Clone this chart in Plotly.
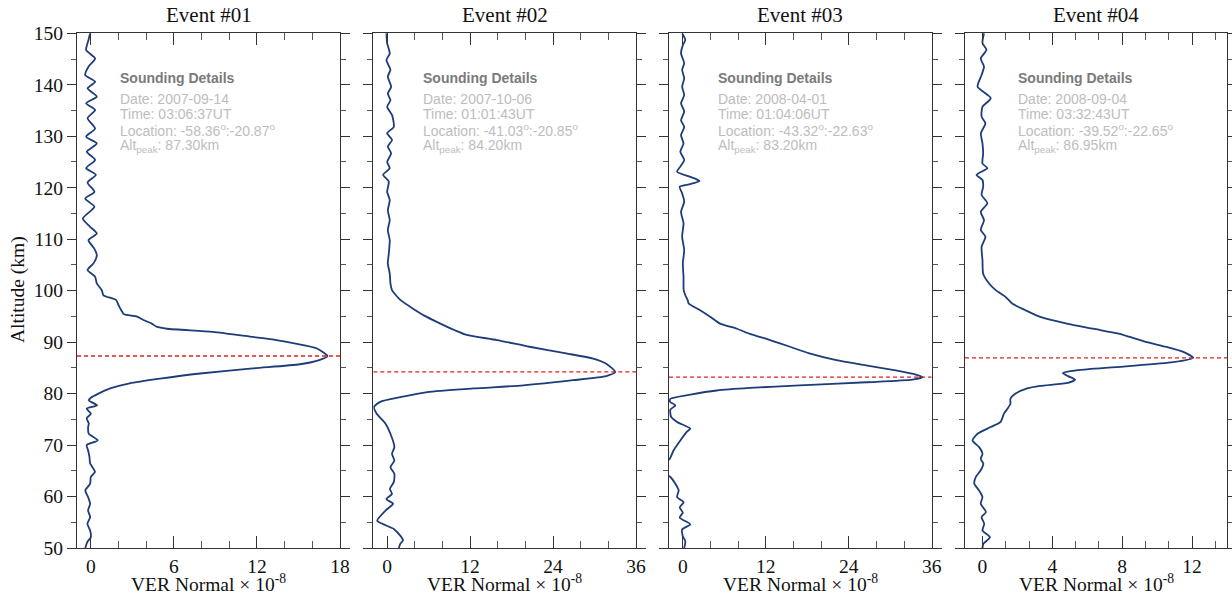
import plotly.graph_objects as go

# ---------------- data ----------------
titles = ["Event #01", "Event #02", "Event #03", "Event #04"]
dates = ["2007-09-14", "2007-10-06", "2008-04-01", "2008-09-04"]
times = ["03:06:37UT", "01:01:43UT", "01:04:06UT", "03:32:43UT"]
lat = ["-58.36", "-41.03", "-43.32", "-39.52"]
lon = ["-20.87", "-20.85", "-22.63", "-22.65"]
alt_peak = [87.30, 84.20, 83.20, 86.95]

alt_01 = [150.0, 148.7, 146.75, 145.1, 143.5, 141.9, 140.6, 139.3, 137.7, 136.4, 135.1, 133.5,
          131.5, 129.9, 128.6, 127.0, 125.4, 123.8, 122.5, 121.0, 119.2, 117.9, 116.3, 114.0,
          112.4, 111.1, 109.8, 108.2, 106.9, 105.3, 104.0, 102.7, 101.4, 100.1, 99.1, 98.2,
          97.2, 96.2, 95.4, 95.0, 94.3, 93.6, 93.0, 92.6, 92.0, 91.0, 90.4, 89.7, 88.8, 87.3,
          86.5, 85.7, 84.9, 83.9, 82.9, 82.0, 81.0, 80.0, 79.2, 78.7, 77.7, 77.1, 76.1, 75.2,
          74.2, 73.4, 72.2, 70.9, 70.0, 69.0, 67.7, 66.4, 64.8, 63.8, 62.5, 61.2, 59.9, 58.6,
          57.3, 56.0, 54.7, 53.4, 52.1, 51.2, 50.0]
ver_01 = [-0.05, -0.17, -0.34, 0.31, -0.17, -0.41, 0.31, -0.24, 0.43, -0.34, 0.31, -0.24,
          0.31, -0.34, 0.43, -0.29, 0.31, -0.34, 0.36, -0.24, 0.26, -0.41, 0.26, -0.58,
          -0.05, 0.43, -0.17, 0.24, 0.43, 0.19, -0.24, 0.31, 0.43, 0.79, 0.91, 1.82,
          2.0, 2.2, 2.4, 3.3, 3.8, 4.4, 4.75, 5.5, 8.8, 11.7, 13.4, 14.8, 16.3, 17.1,
          16.5, 15.1, 11.7, 7.9, 5.0, 2.8, 1.4, 0.55, 0.0, -0.15, 0.45, -0.3, 0.0, -0.3,
          -0.15, -0.2, -0.15, 0.5, -0.3, -0.2, -0.1, -0.05, 0.3, 0.0, -0.05, -0.4, -0.2, -0.05,
          -0.2, -0.05, -0.25, -0.05, 0.0, -0.25, -0.4]

alt_02 = [150.0, 148.1, 146.1, 144.8, 142.9, 141.6, 139.6, 138.3, 137.0, 135.7, 134.1, 131.8,
          130.6, 129.3, 128.0, 126.7, 125.0, 123.8, 122.5, 121.2, 119.2, 117.6, 115.6, 113.7,
          111.8, 109.8, 107.2, 105.3, 103.3, 101.4, 100.1, 98.2, 96.2, 95.2, 93.6, 92.3,
          91.4, 90.4, 89.1, 87.8, 86.8, 85.8, 84.2, 83.4, 82.6, 81.6, 81.0, 80.3, 79.3, 78.4,
          77.4, 76.1, 74.2, 72.2, 69.6, 68.3, 67.0, 65.7, 64.4, 62.8, 61.5, 60.5, 59.5, 58.6,
          57.3, 55.3, 54.7, 53.7, 52.4, 51.5, 50.8, 50.0]
ver_02 = [-0.1, 0.0, 0.38, -0.1, 0.48, 0.1, 0.58, 0.1, 0.48, 0.0, 0.72, 0.96,
          0.0, 0.72, 0.1, 0.58, 0.0, 0.38, -0.58, 0.24, 0.0, 0.38, 0.1, 0.38,
          0.1, 0.38, 0.24, 0.1, 0.38, 0.48, 0.7, 1.9, 4.1, 5.3, 7.7, 9.8,
          11.5, 15.9, 20.6, 25.9, 29.8, 31.7, 33.0, 31.7, 26.9, 19.7, 12.5, 5.8, 1.9, -1.0,
          -1.9, -1.5, -0.25, 0.48, 1.05, 0.7, 1.05, 0.48, 1.05, 0.96, 0.4, 0.7, -0.1, 0.86,
          -0.2, -1.44, -0.7, 0.96, 1.9, 2.3, 1.9, 1.7]

alt_03 = [150.0, 148.7, 147.7, 146.1, 144.2, 142.9, 141.3, 139.6, 138.0, 136.4, 134.8, 133.1,
          131.8, 130.2, 128.6, 127.0, 125.4, 124.1, 123.1, 122.1, 121.3, 120.7, 120.2, 118.9,
          117.3, 115.3, 113.1, 110.5, 107.9, 105.3, 102.7, 100.1, 99.1, 98.2, 97.5, 96.2,
          94.9, 93.6, 92.6, 91.6, 90.4, 89.1, 87.8, 86.5, 85.5, 84.5, 83.7, 83.2, 82.7, 82.2,
          81.6, 81.1, 80.6, 79.8, 79.0, 78.4, 77.7, 76.9, 75.5, 74.5, 73.2, 72.6, 70.9, 69.0,
          67.3, 66.5, 65.5, 64.5, 63.8, 62.5, 61.2, 59.9, 58.9, 57.9, 56.9, 55.9, 54.6, 53.6,
          52.3, 51.3, 50.0]
ver_03 = [-0.1, 0.36, 0.0, -0.26, 0.2, -0.1, 0.2, -0.1, 0.2, -0.26, 0.2, -0.26,
          0.2, -0.26, 0.1, -0.36, 0.2, -0.36, -0.84, 1.08, 2.42, 1.08, -0.46, -0.1,
          0.2, -0.26, 0.1, -0.1, 0.2, 0.0, 0.1, 0.12, 0.36, 0.69, 0.84, 2.5,
          4.0, 5.4, 7.8, 9.7, 12.6, 15.5, 18.3, 22.2, 26.5, 30.8, 33.7, 34.7, 33.2, 26.5,
          16.9, 9.7, 4.9, 1.1, -1.8, -1.85, -1.08, -1.8, -1.7, -0.84, 1.08, 0.6, -0.36, -1.32,
          -1.9, -2.6, -3.0, -2.6, -1.8, -1.08, -0.6, -0.84, 0.12, -0.46, 0.0, -0.46, 1.08, -0.1,
          0.0, 0.36, 0.2]

alt_04 = [150.0, 148.1, 146.8, 145.1, 143.5, 141.9, 139.6, 137.4, 135.7, 133.8, 132.5, 130.6,
          128.6, 126.7, 124.7, 123.8, 122.5, 121.5, 120.2, 118.6, 117.0, 115.3, 113.7, 111.8,
          110.5, 108.5, 105.9, 103.3, 101.4, 100.1, 98.8, 97.5, 96.2, 94.9, 93.6, 92.6,
          91.6, 91.0, 90.0, 89.1, 88.1, 86.95, 86.1, 85.3, 84.6, 84.0, 83.4, 82.7, 82.1, 81.5,
          81.0, 80.0, 79.0, 78.0, 77.0, 76.1, 74.5, 73.5, 72.2, 70.9, 69.6, 68.3, 67.3, 66.4,
          65.1, 63.8, 62.5, 61.2, 59.9, 58.6, 57.0, 56.0, 54.7, 53.4, 52.1, 50.8, 50.0]
ver_04 = [0.09, 0.0, 0.23, -0.1, 0.09, -0.05, -0.28, 0.47, 0.0, -0.05, 0.17, -0.09,
          0.0, 0.04, 0.0, 0.28, -0.34, 0.0, 0.04, -0.05, 0.28, -0.1, 0.09, -0.1,
          0.17, -0.05, 0.0, 0.04, 0.38, 0.76, 1.32, 1.70, 2.46, 3.31, 4.83, 6.34,
          7.86, 8.43, 9.4, 10.5, 11.5, 12.06, 10.9, 8.2, 5.6, 4.6, 4.9, 5.3, 4.9, 3.3,
          2.56, 1.9, 1.6, 1.6, 1.42, 1.23, 1.04, 0.47, -0.28, -0.57, -0.19, 0.0, -0.1, 0.05,
          -0.1, -0.38, -0.47, -0.2, 0.0, -0.1, 0.2, -0.05, 0.1, 0.0, 0.43, 0.05, 0.0]

altitudes = [alt_01, alt_02, alt_03, alt_04]
vers = [ver_01, ver_02, ver_03, ver_04]

x_ranges = [[-1, 18], [-2, 36], [-2, 36], [-1, 14]]
x_dticks = [6, 12, 12, 4]

# ---------------- layout ----------------
W, H = 1232, 597
SERIF = "Liberation Serif"
SANS = "Liberation Sans"
dom_px = [(77, 340), (373.3, 636), (669, 931.7), (965, 1227)]
y_top_px, y_bot_px = 33.3, 548


def px_x(p):
    return p / W


def px_y(p):
    return 1 - p / H


fig = go.Figure()
layout = dict(
    width=W, height=H,
    margin=dict(l=0, r=0, t=0, b=0, autoexpand=False),
    paper_bgcolor="white", plot_bgcolor="white",
    showlegend=False,
)
annotations = []

for i in range(4):
    n = "" if i == 0 else str(i + 1)
    xa, ya = "x" + n, "y" + n
    x0, x1 = dom_px[i]
    layout["xaxis" + n] = dict(
        domain=[px_x(x0), px_x(x1)], range=x_ranges[i], anchor=ya,
        tickmode="linear", tick0=0, dtick=x_dticks[i],
        ticks="inside", ticklen=12, tickwidth=1, tickcolor="#333",
        minor=dict(dtick=x_dticks[i] / 3, ticks="inside", ticklen=7, tickwidth=1, tickcolor="#555"),
        mirror="ticks", showline=True, linecolor="#333", linewidth=1.3,
        showgrid=False, zeroline=False,
        tickfont=dict(family=SERIF, size=19.5, color="#111"),
    )
    layout["yaxis" + n] = dict(
        domain=[px_y(y_bot_px), px_y(y_top_px)], range=[50, 150], anchor=xa,
        tickmode="linear", tick0=50, dtick=10,
        ticks="outside", ticklen=9, tickwidth=1, tickcolor="#333",
        minor=dict(dtick=5, ticks="outside", ticklen=5, tickwidth=1, tickcolor="#555"),
        mirror="ticks", showline=True, linecolor="#333", linewidth=1.3,
        showgrid=False, zeroline=False, showticklabels=(i == 0),
        tickfont=dict(family=SERIF, size=19.5, color="#111"),
    )

    fig.add_trace(go.Scatter(
        x=vers[i], y=altitudes[i], mode="lines", xaxis=xa, yaxis=ya,
        line=dict(color="#1d3c7a", width=1.8, shape="spline", smoothing=0.6),
        hoverinfo="skip",
    ))
    fig.add_trace(go.Scatter(
        x=x_ranges[i], y=[alt_peak[i], alt_peak[i]], mode="lines", xaxis=xa, yaxis=ya,
        line=dict(color="#e0201c", width=1.3, dash="4px,3px"),
        hoverinfo="skip",
    ))

    cx = px_x((x0 + x1) / 2)
    annotations.append(dict(text=titles[i], x=cx, y=px_y(15), xref="paper", yref="paper",
                            xanchor="center", yanchor="middle", showarrow=False,
                            font=dict(family=SERIF, size=21, color="#111")))
    annotations.append(dict(text="VER Normal \u00d7 10<sup>-8</sup>", x=cx, y=px_y(583),
                            xref="paper", yref="paper", xanchor="center", yanchor="middle",
                            showarrow=False, font=dict(family=SERIF, size=19.5, color="#111")))

    tx = px_x(x0 + [41, 47.4, 47.3, 51.3][i])
    annotations.append(dict(text="<b>Sounding Details</b>", x=tx, y=px_y(78), xref="paper",
                            yref="paper", xanchor="left", yanchor="middle", showarrow=False,
                            font=dict(family=SANS, size=14, color="#7a7a7a")))
    lines = [
        (99, "Date: " + dates[i]),
        (114.5, "Time: " + times[i]),
        (130, "Location: " + lat[i] + "<sup>o</sup>:" + lon[i] + "<sup>o</sup>"),
        (146, "Alt<sub>peak</sub>: %.2fkm" % alt_peak[i]),
    ]
    for yy, t in lines:
        annotations.append(dict(text=t, x=tx, y=px_y(yy), xref="paper", yref="paper",
                                xanchor="left", yanchor="middle", showarrow=False,
                                font=dict(family=SANS, size=14, color="#bdbdbd")))

annotations.append(dict(text="Altitude (km)", x=px_x(18), y=px_y(290), xref="paper",
                        yref="paper", xanchor="center", yanchor="middle", textangle=-90,
                        showarrow=False, font=dict(family=SERIF, size=19.5, color="#111")))
layout["annotations"] = annotations
fig.update_layout(**layout)
fig.write_html(
    "out.html",
    config={"displayModeBar": False},
    post_script="document.body.style.margin='0px';document.body.style.overflow='hidden';",
)
